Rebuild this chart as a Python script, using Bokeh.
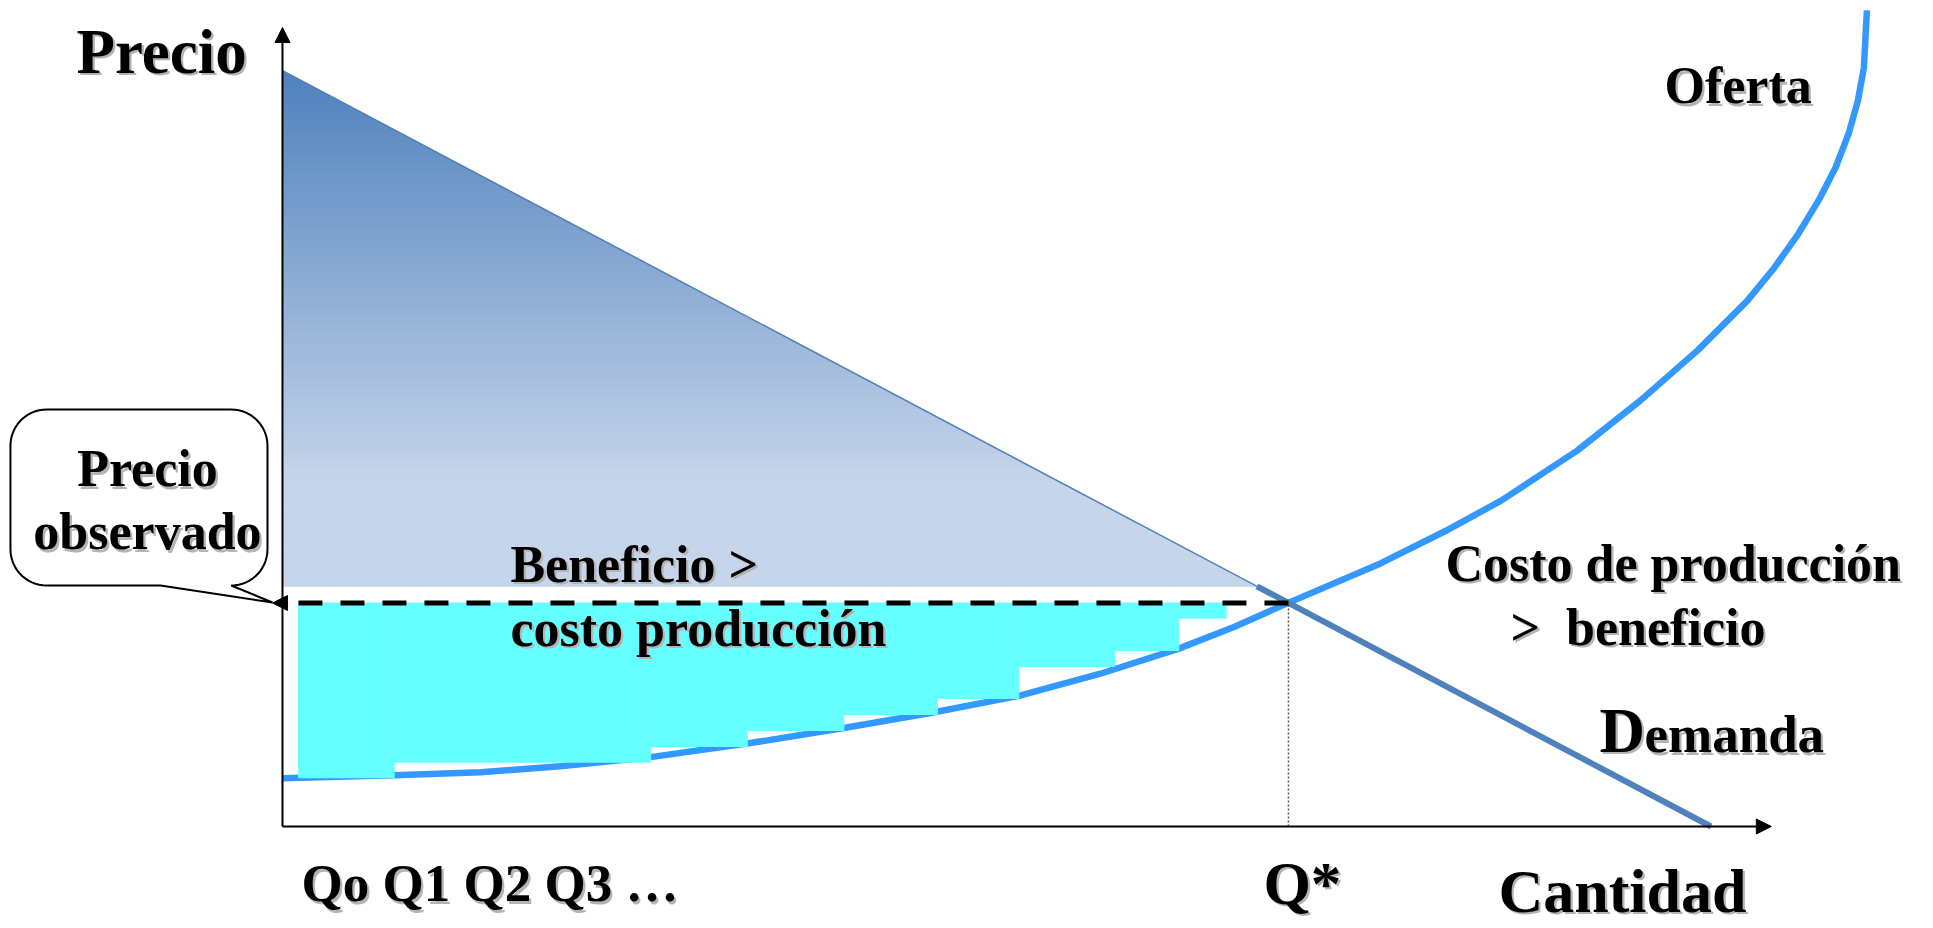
import numpy as np
from bokeh.plotting import figure
from bokeh.models import Range1d, Arrow, NormalHead, Label
from bokeh.embed import file_html
from bokeh.resources import INLINE

# ---------------- data ----------------
# demand line: price axis intercept -> quantity axis intercept
demand_q = [0.0, 142.0]
demand_p = [75.2, 0.0]

# supply (oferta) curve
supply_q = [0.0, 11.1, 19.7, 27.6, 36.6, 46.5, 55.8, 64.4, 73.2, 81.3,
            89.1, 94.7, 100.1, 109.2, 115.6, 121.1, 128.7, 135.0, 140.7,
            145.6, 148.3, 150.7, 152.7, 154.4, 155.7, 156.6, 157.2, 157.5]
supply_p = [4.8, 5.1, 5.4, 6.0, 6.9, 8.3, 9.8, 11.3, 13.0, 15.2,
            17.7, 19.9, 22.3, 26.2, 29.4, 32.4, 37.4, 42.4, 47.4,
            52.3, 55.6, 59.0, 62.3, 65.6, 69.0, 72.2, 75.5, 81.2]

# stepped "benefit > production cost" blocks (Qo, Q1, Q2, ...)
step_left = [1.6, 11.1, 36.6, 46.2, 55.8, 65.1, 73.2, 82.7, 89.1]
step_right = [11.1, 36.6, 46.2, 55.8, 65.1, 73.2, 82.7, 89.1, 93.8]
step_bottom = [4.85, 6.4, 7.96, 9.55, 11.14, 12.74, 15.92, 17.51, 20.73]

q_star = 100.0        # equilibrium quantity Q*
p_star = 22.24        # observed / equilibrium price
surplus_floor = 23.9  # lower edge of the shaded consumer-surplus triangle
y_axis_top = 79.5
x_axis_end = 148.0

FONT = "Liberation Serif"

# ---------------- figure ----------------
p = figure(width=1933, height=928, output_backend="svg", toolbar_location=None,
           x_range=Range1d(-28.03, 164.12), y_range=Range1d(-10.15, 82.19),
           x_axis_type=None, y_axis_type=None, min_border=0,
           min_border_left=0, min_border_right=0, min_border_top=0, min_border_bottom=0)
p.grid.visible = False
p.outline_line_color = None
p.background_fill_color = "white"
p.border_fill_color = "white"

# ---------------- gradient triangle (consumer surplus) ----------------
top_rgb = np.array([79, 129, 189])
bot_rgb = np.array([198, 213, 234])
dp_rev = demand_p[::-1]
dq_rev = demand_q[::-1]
n = 240
edges = np.linspace(surplus_floor, demand_p[0], n + 1)
gx, gy, gc = [], [], []
for i in range(n):
    lo, hi = edges[i], edges[i + 1]
    qlo = float(np.interp(lo, dp_rev, dq_rev))
    qhi = float(np.interp(hi, dp_rev, dq_rev))
    gx.append([0.0, qlo, qhi, 0.0])
    gy.append([lo, lo, hi, hi])
    t = (demand_p[0] - 0.5 * (lo + hi)) / (demand_p[0] - surplus_floor)
    f = min(1.0, t / 0.8)
    c = top_rgb + (bot_rgb - top_rgb) * f
    gc.append("#%02x%02x%02x" % tuple(int(round(v)) for v in c))
p.patches(gx, gy, fill_color=gc, line_color=gc, line_width=1)

# thin demand line along the triangle hypotenuse
p.line(demand_q, demand_p, line_width=1.5, line_color="#4f81bd")

# ---------------- supply curve ----------------
p.line(supply_q, supply_p, line_width=6.5, line_color="#3399ff", line_join="round")

# ---------------- cyan steps ----------------
p.quad(left=step_left, right=step_right, bottom=step_bottom, top=p_star,
       fill_color="#66ffff", line_color="#66ffff", line_width=1)

# ---------------- thick demand segment ----------------
q_corner = float(np.interp(surplus_floor, dp_rev, dq_rev))
p.line([q_corner, demand_q[1]], [surplus_floor, demand_p[1]],
       line_width=6, line_color="#4f81bd")

# ---------------- Q* dotted guide ----------------
p.line([q_star, q_star], [0, p_star], line_dash="2 2", line_color="#555555", line_width=1.5)

# ---------------- dashed observed-price arrow ----------------
p.add_layout(Arrow(x_start=q_star, y_start=p_star, x_end=-0.99, y_end=p_star,
                   line_width=5, line_color="black", line_dash="24 18",
                   end=NormalHead(size=15, fill_color="black", line_color="black", line_width=1)))

# ---------------- axes with arrows ----------------
p.add_layout(Arrow(x_start=0, y_start=0, x_end=0, y_end=y_axis_top, line_width=2,
                   line_color="black",
                   end=NormalHead(size=15, fill_color="black", line_color="black", line_width=1)))
p.add_layout(Arrow(x_start=0, y_start=0, x_end=x_axis_end, y_end=0, line_width=2,
                   line_color="black",
                   end=NormalHead(size=15, fill_color="black", line_color="black", line_width=1)))

# ---------------- callout "Precio observado" ----------------
L, R, T, B = -27.04, -1.49, 41.49, 23.98
r = 3.6
tip = (-0.99, 22.29)
base1 = -12.13
cx, cy = [], []


def arc(xc, yc, a0, a1):
    a = np.linspace(a0, a1, 16)
    cx.extend((xc + r * np.cos(a)).tolist())
    cy.extend((yc + r * np.sin(a)).tolist())


cx += [L + r, base1, tip[0]]
cy += [B, B, tip[1]]
arc(R - r, B + r, -np.pi / 2, 0)          # bottom-right
arc(R - r, T - r, 0, np.pi / 2)           # top-right
arc(L + r, T - r, np.pi / 2, np.pi)       # top-left
arc(L + r, B + r, np.pi, 1.5 * np.pi)     # bottom-left
p.patch(cx, cy, fill_color="white", line_color="black", line_width=2)


# ---------------- texts ----------------
def label(x, y, text, size, align="left"):
    px = float(size.replace("px", ""))
    y = y + 0.36 * px / 10.05          # baseline correction
    common = dict(text=text, text_font=FONT, text_font_style="bold", text_font_size=size,
                  text_align=align, text_baseline="alphabetic")
    p.add_layout(Label(x=x + 0.22, y=y - 0.22, text_color="#b4b4b4", **common))
    p.add_layout(Label(x=x, y=y, text_color="black", **common))


label(-20.48, 74.83, "Precio", "63px")
label(-13.42, 33.73, "Precio", "52px", "center")
label(-13.42, 27.46, "observado", "52px", "center")
label(137.38, 71.84, "Oferta", "52px")
label(22.66, 24.18, "Beneficio >", "52px")
label(22.66, 17.81, "costo producción", "52px")
label(115.61, 24.28, "Costo de producción", "52px")
label(122.07, 17.91, ">\u00a0 beneficio", "52px")
label(130.91, 7.26, "D", "63px")
label(135.39, 7.26, "emanda", "53px")
label(1.89, -7.56, "Qo Q1 Q2 Q3 …", "53px")
label(97.51, -7.86, "Q*", "61px")
label(120.87, -8.66, "Cantidad", "62px")

html = file_html(p, INLINE)
html = html.replace("<body>", '<body style="margin:0;padding:0;">', 1)
open("out.html", "w").write(html)
